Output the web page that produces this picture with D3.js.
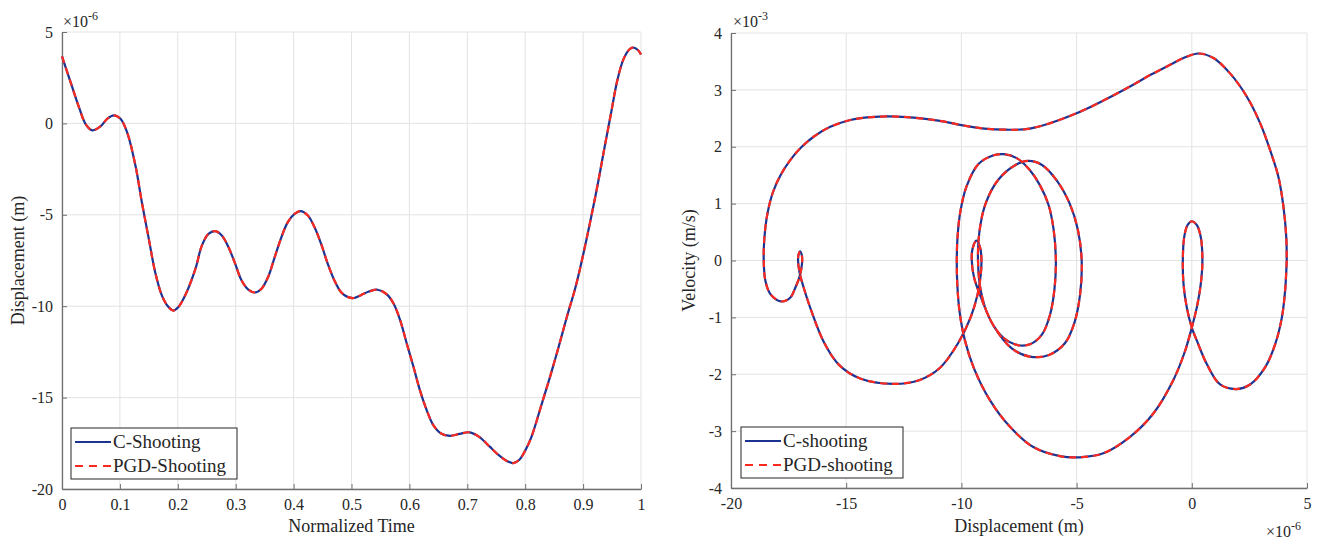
<!DOCTYPE html>
<html>
<head>
<meta charset="utf-8">
<script src="https://cdn.jsdelivr.net/npm/d3@7"></script>
<style>
  body { margin: 0; background: #fff; }
</style>
</head>
<body>
<svg id="fig" width="1320" height="539"></svg>
<script>
// left panel: displacement (x1e-6 m) vs normalized time
const timeT = [0, 0.0154, 0.0297, 0.041, 0.0526, 0.067, 0.078, 0.0897, 0.101, 0.1126, 0.127, 0.138, 0.15, 0.161, 0.1726, 0.184, 0.1926, 0.201, 0.2126, 0.23, 0.2417, 0.253, 0.2646, 0.276, 0.2874, 0.299, 0.31, 0.3217, 0.333, 0.3446, 0.356, 0.3674, 0.379, 0.39, 0.4017, 0.412, 0.4246, 0.436, 0.4474, 0.4589, 0.4703, 0.4817, 0.4931, 0.5046, 0.516, 0.53, 0.545, 0.561, 0.5726, 0.584, 0.5954, 0.6069, 0.618, 0.6297, 0.641, 0.6554, 0.6697, 0.6869, 0.704, 0.7211, 0.7383, 0.7554, 0.7697, 0.7794, 0.79, 0.8, 0.811, 0.829, 0.843, 0.858, 0.872, 0.887, 0.9, 0.923, 0.937, 0.948, 0.959, 0.97, 0.981, 0.988, 0.995, 1.0];
const dispT = [3.67, 2.2, 0.85, -0.05, -0.38, -0.15, 0.25, 0.44, 0.25, -0.5, -2.33, -4.33, -6.33, -8.15, -9.42, -10.05, -10.24, -10.05, -9.42, -8.0, -6.67, -6.04, -5.89, -6.13, -6.76, -7.67, -8.58, -9.09, -9.25, -9.04, -8.4, -7.31, -6.22, -5.4, -4.95, -4.8, -5.04, -5.67, -6.58, -7.67, -8.58, -9.22, -9.49, -9.55, -9.4, -9.2, -9.1, -9.35, -9.85, -10.76, -12.04, -13.3, -14.58, -15.67, -16.49, -16.98, -17.09, -16.98, -16.9, -17.16, -17.67, -18.18, -18.49, -18.58, -18.4, -17.9, -17.13, -15.3, -13.85, -12.2, -10.58, -8.95, -7.2, -3.7, -1.32, 0.51, 2.34, 3.53, 4.08, 4.14, 4.0, 3.77];

// right panel: phase portrait, displacement (x1e-6 m) and velocity (x1e-3 m/s)
const phaseX = [4.12, 4.05, 3.91, 3.62, 3.18, 2.53, 1.92, 1.23, 0.65, 0.22, 0, -0.22, -0.36, -0.39,
  -0.33, -0.19, 0, 0.22, 0.39, 0.46,
  0.39, 0.22, 0, -0.3, -0.8, -1.67, -2.68, -3.84, -4.86, -5.72, -6.88, -7.9, -8.77, -9.45, -9.85, -10.08, -10.18, -10.2,
  -10.17, -10.05, -9.78, -9.25, -8.6, -8.16, -7.6, -7.05, -6.6, -6.22, -6.0, -5.9,
  -5.96, -6.15, -6.5, -7.0, -7.54, -8.2, -8.8, -9.15, -9.28,
  -9.22, -8.95, -8.4, -7.65, -7.1, -6.5, -5.85, -5.3, -4.95, -4.78,
  -4.85, -5.1, -5.5, -6.2, -7.03, -7.8, -8.6, -9.15, -9.45, -9.55,
  -9.52, -9.35, -9.18, -9.13,
  -9.16, -9.3, -9.6, -10.14, -10.94, -11.81, -12.97, -14.42, -15.3, -15.95, -16.5, -16.85, -17.02, -17.09,
  -17.07, -17.0, -16.93, -16.91,
  -16.95, -17.05, -17.2, -17.42, -17.83, -18.29, -18.51, -18.58,
  -18.55, -18.42, -18.18, -17.85, -17.42, -16.95, -16.4, -15.69, -14.82, -13.95, -12.79, -11.0, -10.0, -9.0, -8.1, -7.03, -5.0, -2.68, -1.81, -0.94, -0.36, 0.29, 0.94, 1.66, 2.39, 2.97, 3.4, 3.76, 3.98, 4.1, 4.12];
const phaseV = [0, -0.53, -1.0, -1.47, -1.88, -2.18, -2.26, -2.18, -1.82, -1.41, -1.18, -0.82, -0.41, 0,
  0.41, 0.62, 0.69, 0.62, 0.41, 0,
  -0.41, -0.82, -1.18, -1.6, -2.1, -2.69, -3.1, -3.39, -3.46, -3.44, -3.28, -2.92, -2.45, -1.9, -1.4, -0.9, -0.4, 0,
  0.4, 0.85, 1.3, 1.7, 1.85, 1.87, 1.8, 1.6, 1.33, 0.98, 0.55, 0,
  -0.5, -0.95, -1.3, -1.47, -1.49, -1.35, -1.0, -0.55, 0,
  0.5, 1.0, 1.42, 1.68, 1.75, 1.68, 1.4, 1.0, 0.55, 0,
  -0.6, -1.1, -1.45, -1.66, -1.69, -1.55, -1.15, -0.65, -0.3, 0,
  0.2, 0.35, 0.22, 0,
  -0.25, -0.6, -1.0, -1.45, -1.89, -2.1, -2.17, -2.07, -1.84, -1.45, -0.9, -0.47, -0.22, 0,
  0.1, 0.16, 0.1, 0,
  -0.15, -0.32, -0.47, -0.65, -0.72, -0.59, -0.35, 0,
  0.4, 0.82, 1.2, 1.5, 1.77, 1.99, 2.18, 2.35, 2.47, 2.52, 2.53, 2.46, 2.38, 2.32, 2.3, 2.32, 2.59, 3.06, 3.26, 3.44, 3.56, 3.64, 3.56, 3.29, 2.88, 2.41, 1.94, 1.47, 0.94, 0.41, 0];

// ticks and legend names
const tTicks = [0, 0.1, 0.2, 0.3, 0.4, 0.5, 0.6, 0.7, 0.8, 0.9, 1];
const dTicks = [-20, -15, -10, -5, 0, 5];
const pxTicks = [-20, -15, -10, -5, 0, 5];
const pvTicks = [-4, -3, -2, -1, 0, 1, 2, 3, 4];
const leftNames = ["C-Shooting", "PGD-Shooting"];
const rightNames = ["C-shooting", "PGD-shooting"];

const blue = "#1c3391";
const red = "#ff2a1f";
const serif = "'Liberation Serif', Tinos, 'Times New Roman', Times, 'DejaVu Serif', serif";
const svg = d3.select("#fig").attr("font-family", serif);

function panel(opt) {
  const x = d3.scaleLinear().domain(opt.xDom).range([opt.left, opt.right]);
  const y = d3.scaleLinear().domain(opt.yDom).range([opt.bottom, opt.top]);
  const g = svg.append("g");

  // grid
  g.append("g").selectAll("line").data(opt.xTicks).join("line")
    .attr("x1", d => x(d)).attr("x2", d => x(d))
    .attr("y1", opt.top).attr("y2", opt.bottom)
    .attr("stroke", "#e3e3e3").attr("stroke-width", 1);
  g.append("g").selectAll("line").data(opt.yTicks).join("line")
    .attr("x1", opt.left).attr("x2", opt.right)
    .attr("y1", d => y(d)).attr("y2", d => y(d))
    .attr("stroke", "#e3e3e3").attr("stroke-width", 1);

  // axes (ticks inside, like matlab)
  const xAxis = g.append("g").attr("transform", `translate(0,${opt.bottom})`)
    .call(d3.axisBottom(x).tickValues(opt.xTicks).tickFormat(d => String(d)).tickSizeInner(-5).tickSizeOuter(0).tickPadding(10));
  const yAxis = g.append("g").attr("transform", `translate(${opt.left},0)`)
    .call(d3.axisLeft(y).tickValues(opt.yTicks).tickFormat(d => String(d)).tickSizeInner(-5).tickSizeOuter(0).tickPadding(9));
  [xAxis, yAxis].forEach(a => {
    a.attr("font-family", serif).attr("font-size", 16);
    a.select(".domain").attr("stroke", "#707070").attr("stroke-width", 1.3);
    a.selectAll(".tick line").attr("stroke", "#707070");
    a.selectAll(".tick text").attr("fill", "#262626");
  });

  // curves
  const line = d3.line().x(d => x(d[0])).y(d => y(d[1])).curve(d3.curveCatmullRom.alpha(0.5));
  const pts = opt.xs.map((v, i) => [v, opt.ys[i]]);
  g.append("path").attr("d", line(pts)).attr("fill", "none")
    .attr("stroke", blue).attr("stroke-width", 2.2);
  g.append("path").attr("d", line(pts)).attr("fill", "none")
    .attr("stroke", red).attr("stroke-width", 2.2).attr("stroke-dasharray", "7,5");

  // axis labels
  g.append("text").text(opt.xLabel)
    .attr("x", (opt.left + opt.right) / 2).attr("y", 532)
    .attr("text-anchor", "middle").attr("font-size", 18).attr("fill", "#262626");
  g.append("text").text(opt.yLabel)
    .attr("transform", `translate(${opt.yLabelX},${(opt.top + opt.bottom) / 2}) rotate(-90)`)
    .attr("text-anchor", "middle").attr("font-size", 18).attr("fill", "#262626");

  // exponent labels
  opt.exps.forEach(e => {
    const t = g.append("text").attr("x", e.x).attr("y", e.y).attr("font-size", 16).attr("fill", "#262626");
    t.append("tspan").text("×10");
    t.append("tspan").text(e.p).attr("font-size", 12).attr("dy", -7);
  });

  // legend
  const lg = g.append("g");
  lg.append("rect").attr("x", opt.leg[0]).attr("y", opt.leg[1])
    .attr("width", opt.leg[2]).attr("height", 51)
    .attr("fill", "#fff").attr("stroke", "#262626").attr("stroke-width", 1);
  opt.names.forEach((n, i) => {
    const yy = opt.leg[1] + 14 + i * 24;
    lg.append("line").attr("x1", opt.leg[0] + 4).attr("x2", opt.leg[0] + 40)
      .attr("y1", yy).attr("y2", yy)
      .attr("stroke", i === 0 ? blue : red).attr("stroke-width", 2.2)
      .attr("stroke-dasharray", i === 0 ? null : "8,6");
    lg.append("text").text(n).attr("x", opt.leg[0] + 42).attr("y", yy + 6)
      .attr("font-size", 19).attr("fill", "#262626");
  });
}

panel({
  xDom: [0, 1], yDom: [-20, 5],
  left: 62, right: 641, top: 32, bottom: 489,
  xTicks: tTicks, yTicks: dTicks,
  xs: timeT, ys: dispT,
  xLabel: "Normalized Time", yLabel: "Displacement (m)", yLabelX: 24,
  exps: [{x: 63, y: 27, p: "-6"}],
  leg: [71, 428, 166], names: leftNames
});

panel({
  xDom: [-20, 5], yDom: [-4, 4],
  left: 731, right: 1307, top: 33, bottom: 488,
  xTicks: pxTicks, yTicks: pvTicks,
  xs: phaseX, ys: phaseV,
  xLabel: "Displacement (m)", yLabel: "Velocity (m/s)", yLabelX: 695,
  exps: [{x: 733, y: 27, p: "-3"}, {x: 1266, y: 537, p: "-6"}],
  leg: [741, 427, 162], names: rightNames
});
</script>
</body>
</html>
